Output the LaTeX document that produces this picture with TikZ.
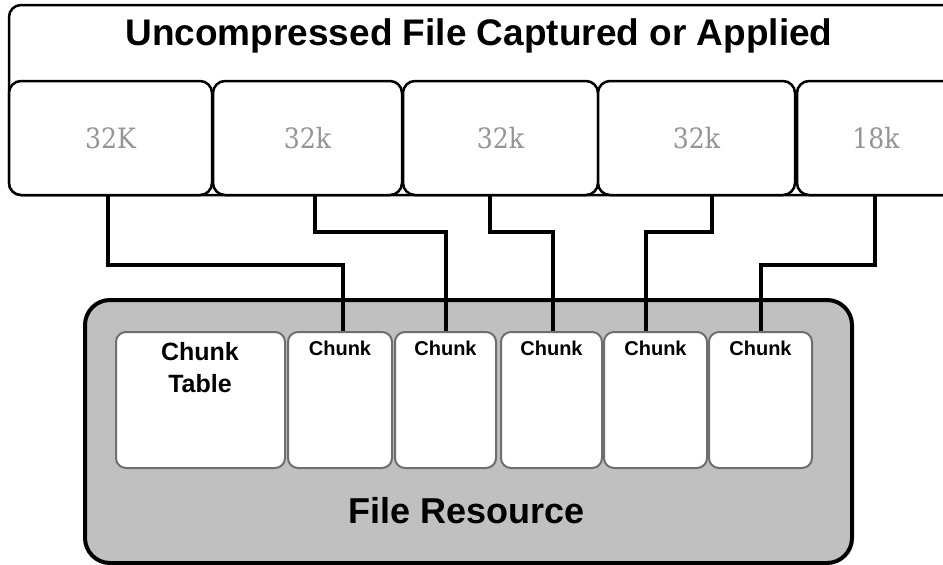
\documentclass[tikz,border=0pt]{standalone}
\usepackage{fontspec}
\setmainfont{Liberation Sans}
\newfontfamily\numfont[FakeStretch=0.9]{DejaVu Serif}
\definecolor{numgray}{HTML}{959595}
\definecolor{resgray}{HTML}{C0C0C0}
\definecolor{chunkedge}{HTML}{6E6E6E}
\begin{document}
\begin{tikzpicture}[x=1pt,y=-1pt,
  outerbox/.style={draw=black, line width=2.5pt, rounded corners=12pt, fill=white},
  topbox/.style={draw=black, line width=2.5pt, rounded corners=12pt, fill=white,
    minimum height=114pt, inner sep=0pt, text=numgray,
    font=\numfont\fontsize{28}{32}\selectfont},
  resbox/.style={draw=black, line width=4pt, rounded corners=25pt, fill=resgray},
  chunkbox/.style={draw=chunkedge, line width=2pt, rounded corners=10pt, fill=white,
    minimum height=136pt, inner sep=0pt},
  chunklabel/.style={anchor=base, inner sep=0pt, font=\bfseries\fontsize{20}{24}\selectfont},
  biglabel/.style={anchor=base, inner sep=0pt, font=\bfseries\fontsize{36}{40}\selectfont},
  conn/.style={draw=black, line width=4pt}
]
\useasboundingbox (0,0) rectangle (943,565);
\clip (0,0) rectangle (943,565);

% upper structure
\node[outerbox, minimum width=946pt, minimum height=190pt, inner sep=0pt] (outer) at (482,100) {};
\node[biglabel, font=\bfseries\fontsize{37}{40}\selectfont] (title) at (479,45) {Uncompressed File Captured or Applied};
\node[topbox, minimum width=203pt] (t1) at (110.5,138) {32K};
\node[topbox, minimum width=189pt] (t2) at (307.5,138) {32k};
\node[topbox, minimum width=195pt] (t3) at (500.5,138) {32k};
\node[topbox, minimum width=197pt] (t4) at (696.5,138) {32k};
\node[topbox, minimum width=158pt] (t5) at (876,138) {18k};

% file resource
\node[resbox, minimum width=767pt, minimum height=263pt, inner sep=0pt] (res) at (468.5,431.5) {};
\node[biglabel] (reslabel) at (467,523) {File Resource};

\node[chunkbox, minimum width=169pt] (ct) at (200.5,400) {};
\node[chunkbox, minimum width=104pt] (c1) at (340,400) {};
\node[chunkbox, minimum width=101pt] (c2) at (445.5,400) {};
\node[chunkbox, minimum width=101pt] (c3) at (551.5,400) {};
\node[chunkbox, minimum width=103pt] (c4) at (655.5,400) {};
\node[chunkbox, minimum width=103pt] (c5) at (760.5,400) {};

\node[anchor=north, inner sep=0pt, align=center, font=\bfseries\fontsize{25}{32}\selectfont] (ctlabel) at (200,342) {Chunk\\Table};
\node[chunklabel] (l1) at (340,355) {Chunk};
\node[chunklabel] (l2) at (445.5,355) {Chunk};
\node[chunklabel] (l3) at (551.5,355) {Chunk};
\node[chunklabel] (l4) at (655.5,355) {Chunk};
\node[chunklabel] (l5) at (760.5,355) {Chunk};

% connectors
\coordinate (hlow) at (0,265);
\coordinate (hhigh) at (0,232);
\draw[conn] ([xshift=-2.5pt]t1.south) -- ([xshift=-2.5pt]t1.south |- hlow) -| ([xshift=3pt]c1.north);
\draw[conn] ([xshift=7.5pt]t2.south) -- ([xshift=7.5pt]t2.south |- hhigh) -| (c2.north);
\draw[conn] ([xshift=-10.5pt]t3.south) -- ([xshift=-10.5pt]t3.south |- hhigh) -| ([xshift=1.5pt]c3.north);
\draw[conn] ([xshift=15.5pt]t4.south) -- ([xshift=15.5pt]t4.south |- hhigh) -| ([xshift=-9.5pt]c4.north);
\draw[conn] ([xshift=-1pt]t5.south) -- ([xshift=-1pt]t5.south |- hlow) -| (c5.north);
\end{tikzpicture}
\end{document}
